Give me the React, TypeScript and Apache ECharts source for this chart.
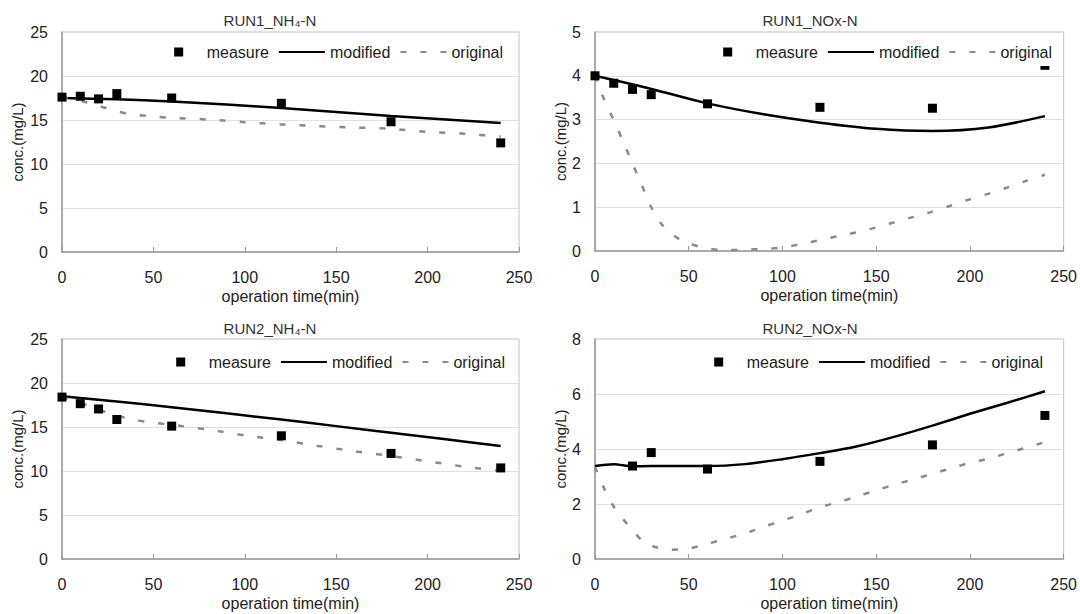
import React, { useEffect, useRef } from "react";
import * as echarts from "echarts";

// ---------- data ----------
const xTicks = [0, 50, 100, 150, 200, 250];

const titles = ["RUN1_NH₄-N", "RUN1_NOx-N", "RUN2_NH₄-N", "RUN2_NOx-N"];
const yMax = [25, 5, 25, 8];
const yInterval = [5, 1, 5, 2];

// RUN1 NH4-N
const measureT1 = [0, 10, 20, 30, 60, 120, 180, 240];
const measure1 = [17.6, 17.7, 17.4, 18.0, 17.5, 16.9, 14.8, 12.4];
const modT1 = [0, 30, 60, 90, 120, 150, 180, 210, 240];
const mod1 = [17.5, 17.35, 17.1, 16.75, 16.35, 15.9, 15.45, 15.05, 14.65];
const origT1 = [0, 10, 20, 30, 40, 50, 60, 80, 100, 120, 140, 160, 180, 200, 220, 240];
const orig1 = [17.6, 17.2, 16.6, 16.0, 15.6, 15.4, 15.25, 15.05, 14.75, 14.5, 14.3, 14.15, 14.0, 13.65, 13.45, 13.1];

// RUN1 NOx-N
const measureT2 = [0, 10, 20, 30, 60, 120, 180, 240];
const measure2 = [4.0, 3.83, 3.69, 3.57, 3.36, 3.28, 3.26, 4.24];
const modT2 = [0, 30, 60, 90, 120, 150, 180, 210, 240];
const mod2 = [4.0, 3.7, 3.37, 3.12, 2.93, 2.79, 2.74, 2.82, 3.08];
const origT2 = [0, 5, 10, 15, 20, 25, 30, 35, 40, 45, 50, 60, 70, 80, 90, 100, 110, 120, 130, 140, 150, 160, 170, 180, 190, 200, 210, 220, 230, 240];
const orig2 = [4.0, 3.45, 2.99, 2.5, 2.0, 1.5, 1.0, 0.64, 0.42, 0.27, 0.17, 0.06, 0.02, 0.03, 0.05, 0.08, 0.16, 0.25, 0.34, 0.43, 0.54, 0.66, 0.78, 0.9, 1.04, 1.18, 1.31, 1.45, 1.6, 1.74];

// RUN2 NH4-N
const measureT3 = [0, 10, 20, 30, 60, 120, 180, 240];
const measure3 = [18.4, 17.65, 17.05, 15.85, 15.1, 14.0, 12.0, 10.35];
const modT3 = [0, 30, 60, 90, 120, 150, 180, 210, 240];
const mod3 = [18.5, 17.9, 17.25, 16.55, 15.85, 15.1, 14.35, 13.6, 12.85];
const origT3 = [0, 10, 20, 30, 40, 50, 60, 80, 100, 120, 140, 160, 180, 200, 220, 240];
const orig3 = [18.4, 17.75, 17.0, 16.3, 15.8, 15.5, 15.25, 14.7, 14.05, 13.5, 12.85, 12.25, 11.7, 11.1, 10.5, 10.0];

// RUN2 NOx-N
const measureT4 = [20, 30, 60, 120, 180, 240];
const measure4 = [3.38, 3.87, 3.27, 3.55, 4.15, 5.22];
const modT4 = [0, 10, 20, 30, 45, 60, 80, 100, 120, 140, 160, 180, 200, 220, 240];
const mod4 = [3.38, 3.45, 3.37, 3.38, 3.38, 3.38, 3.45, 3.63, 3.85, 4.1, 4.45, 4.85, 5.28, 5.68, 6.1];
const origT4 = [0, 5, 10, 15, 20, 25, 30, 40, 50, 60, 70, 80, 90, 100, 110, 120, 130, 140, 150, 160, 170, 180, 190, 200, 210, 220, 230, 240];
const orig4 = [3.35, 2.55, 1.9, 1.45, 1.05, 0.68, 0.48, 0.34, 0.38, 0.55, 0.74, 0.93, 1.17, 1.4, 1.63, 1.88, 2.07, 2.28, 2.5, 2.71, 2.9, 3.1, 3.3, 3.5, 3.65, 3.85, 4.05, 4.25];

const measureT = [measureT1, measureT2, measureT3, measureT4];
const measures = [measure1, measure2, measure3, measure4];
const modT = [modT1, modT2, modT3, modT4];
const mods = [mod1, mod2, mod3, mod4];
const origT = [origT1, origT2, origT3, origT4];
const origs = [orig1, orig2, orig3, orig4];

const zip = (xs: number[], ys: number[]) => xs.map((x, i) => [x, ys[i]]);

// ---------- layout ----------
const grids = [
  { left: 62, top: 32, width: 457, height: 220 },
  { left: 595, top: 32, width: 471, height: 219 },
  { left: 62, top: 339, width: 457, height: 220 },
  { left: 595, top: 339, width: 471, height: 220 },
];
const titleCenters = [[270, 13], [810, 13], [270, 321], [810, 321]];
const legendPos = [
  { right: 573, top: 38 },
  { right: 24, top: 38 },
  { right: 571, top: 348 },
  { right: 33, top: 348 },
];
const yNameGap = [37, 26, 37, 26];

const FONT = "'Liberation Sans', Arial, sans-serif";
const TXT = "#222";

export default function App() {
  const ref = useRef<HTMLDivElement>(null);
  useEffect(() => {
    if (!ref.current) return;
    const chart = echarts.init(ref.current, null, { renderer: "svg" });
    const series: any[] = [];
    for (let i = 0; i < 4; i++) {
      series.push({
        name: "modified",
        type: "line",
        xAxisIndex: i,
        yAxisIndex: i,
        data: zip(modT[i], mods[i]),
        symbol: "none",
        smooth: 0.3,
        lineStyle: { color: "#000", width: 2.5 },
        itemStyle: { color: "#000" },
        z: 2,
      });
      series.push({
        name: "original",
        type: "line",
        xAxisIndex: i,
        yAxisIndex: i,
        data: zip(origT[i], origs[i]),
        symbol: "none",
        smooth: 0.3,
        lineStyle: { color: "#8a8a8a", width: 2.5, type: [6, 14] },
        itemStyle: { color: "#8a8a8a" },
        z: 2,
      });
      series.push({
        name: "measure",
        type: "scatter",
        xAxisIndex: i,
        yAxisIndex: i,
        data: zip(measureT[i], measures[i]),
        symbol: "rect",
        symbolSize: 9,
        itemStyle: { color: "#000", opacity: 1 },
        z: 3,
      });
    }
    const hidden = { opacity: 0, color: "rgba(0,0,0,0)", borderWidth: 0 };
    const option: any = {
      animation: false,
      backgroundColor: "#fff",
      textStyle: { fontFamily: FONT, color: TXT },
      title: titles.map((t, i) => ({
        text: t,
        left: titleCenters[i][0],
        top: titleCenters[i][1],
        textAlign: "center",
        padding: 0,
        textStyle: { fontSize: 15, fontWeight: "normal", color: "#333", fontFamily: FONT },
      })),
      legend: legendPos.map((p) => ({
        ...p,
        orient: "horizontal",
        data: [
          { name: "measure", icon: "path://M0,0L10,0L10,10L0,10Z", itemStyle: { color: "#000", opacity: 1 } },
          { name: "modified", itemStyle: hidden },
          { name: "original", itemStyle: hidden },
        ],
        symbolKeepAspect: true,
        itemWidth: 46,
        itemHeight: 9,
        itemGap: 9,
        padding: [6, 4],
        backgroundColor: "#fff",
        selectedMode: false,
        textStyle: { fontSize: 16, color: TXT, fontFamily: FONT },
        z: 10,
      })),
      grid: grids.map((g) => ({
        ...g,
        show: true,
        borderColor: "#c0c0c0",
        borderWidth: 1,
        backgroundColor: "#fff",
        containLabel: false,
      })),
      xAxis: grids.map((_, i) => ({
        type: "value",
        gridIndex: i,
        min: xTicks[0],
        max: xTicks[xTicks.length - 1],
        interval: 50,
        name: "operation time(min)",
        nameLocation: "middle",
        nameGap: 36,
        nameTextStyle: { fontSize: 16, color: TXT, fontFamily: FONT },
        axisLine: { show: true, lineStyle: { color: "#999", width: 1.5 } },
        axisTick: { show: true, inside: true, length: 5, lineStyle: { color: "#999" } },
        axisLabel: { margin: 17, fontSize: 16, color: TXT, fontFamily: FONT },
        splitLine: { show: false },
      })),
      yAxis: grids.map((_, i) => ({
        type: "value",
        gridIndex: i,
        min: 0,
        max: yMax[i],
        interval: yInterval[i],
        name: "conc.(mg/L)",
        nameLocation: "middle",
        nameGap: yNameGap[i],
        nameRotate: 90,
        nameTextStyle: { fontSize: 15, color: TXT, fontFamily: FONT },
        axisLine: { show: true, lineStyle: { color: "#999", width: 1.5 } },
        axisTick: { show: false },
        axisLabel: { margin: 14, fontSize: 16, color: TXT, fontFamily: FONT },
        splitLine: { show: true, lineStyle: { color: "#e0e0e0", width: 1 } },
      })),
      series,
    };
    chart.setOption(option);
    return () => chart.dispose();
  }, []);
  return (
    <div
      ref={ref}
      style={{ position: "absolute", left: 0, top: 0, width: 1080, height: 614, background: "#fff" }}
    />
  );
}
